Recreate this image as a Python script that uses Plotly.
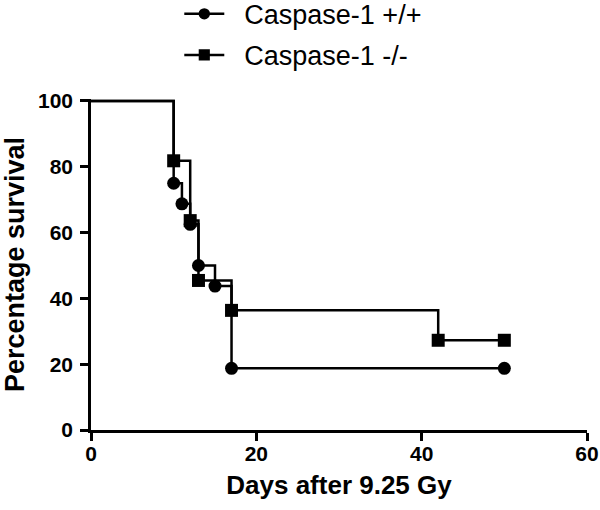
import plotly.graph_objects as go

# Kaplan-Meier survival after 9.25 Gy
wt_days = [0, 10, 11, 12, 13, 15, 17, 50]
wt_surv = [100, 75, 68.75, 62.5, 50, 43.75, 18.75, 18.75]

ko_days = [0, 10, 12, 13, 17, 42, 50]
ko_surv = [100, 81.82, 63.64, 45.45, 36.36, 27.27, 27.27]

x_ticks = [0, 20, 40, 60]
y_ticks = [0, 20, 40, 60, 80, 100]

FONT = 'Liberation Sans, Arial'
GAP = '\u00a0\u00a0'  # a bit of room between legend symbol and label


def marker_sizes(n, size):
    # no marker on the starting point at day 0
    return [0] + [size] * (n - 1)


fig = go.Figure()

fig.add_trace(go.Scatter(
    x=wt_days, y=wt_surv,
    name=GAP + 'Caspase-1 +/+',
    legendgroup='wt',
    mode='lines+markers',
    line=dict(color='black', width=2.5, shape='hv'),
    marker=dict(symbol='circle', color='black', opacity=1,
                size=marker_sizes(len(wt_days), 13),
                line=dict(width=0, color='black')),
    cliponaxis=False,
))

fig.add_trace(go.Scatter(
    x=ko_days, y=ko_surv,
    name=GAP + 'Caspase-1 -/-',
    legendgroup='ko',
    mode='lines+markers',
    line=dict(color='black', width=2.5, shape='hv'),
    marker=dict(symbol='square', color='black', opacity=1,
                size=marker_sizes(len(ko_days), 13),
                line=dict(width=0, color='black')),
    cliponaxis=False,
))

axis_common = dict(
    showgrid=False,
    zeroline=False,
    showline=True,
    linecolor='black',
    linewidth=2.5,
    ticks='outside',
    ticklen=8,
    tickwidth=2.5,
    tickcolor='black',
    automargin=False,
    ticklabeloverflow='allow',
    tickfont=dict(family=FONT, size=21, color='black', weight='bold'),
)

fig.update_layout(
    width=600,
    height=510,
    paper_bgcolor='white',
    plot_bgcolor='white',
    margin=dict(l=91, r=13, t=99, b=80, autoexpand=False),
    xaxis=dict(
        range=[0, 60],
        tickvals=x_ticks,
        ticklabelstandoff=-5,
        title=dict(text='Days after 9.25 Gy', standoff=12,
                   font=dict(family=FONT, size=26, color='black', weight='bold')),
        **axis_common,
    ),
    yaxis=dict(
        range=[0, 100.6],
        tickvals=y_ticks,
        ticklabelstandoff=3,
        title=dict(text='Percentage survival', standoff=22,
                   font=dict(family=FONT, size=27, color='black', weight='bold')),
        **axis_common,
    ),
    legend=dict(
        x=0.178, y=1.33,
        xanchor='left', yanchor='top',
        font=dict(family=FONT, size=27, color='black'),
        traceorder='grouped',
        tracegroupgap=3,
        itemwidth=40,
        bgcolor='rgba(0,0,0,0)',
    ),
    showlegend=True,
)

# drop the default 8px body margin so the figure sits at the window corner
fig.write_html("out.html", config={'displayModeBar': False},
               post_script="document.body.style.margin = '0';")
